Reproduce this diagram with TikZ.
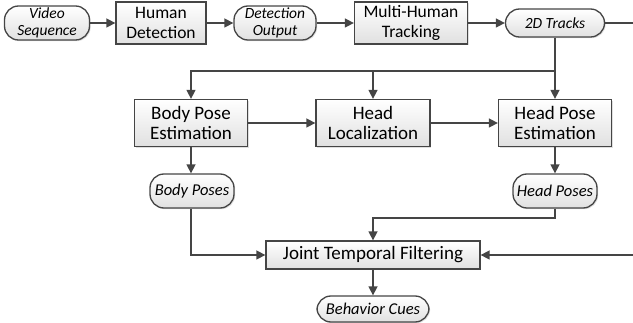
\documentclass[tikz,border=0pt]{standalone}
\usepackage{fontspec}
\setmainfont{Carlito}
\usetikzlibrary{arrows.meta,shadows}
\definecolor{edge}{HTML}{454545}
\begin{document}
\begin{tikzpicture}[x=1pt,y=-1pt,
  base/.style={draw=edge,line width=1.3pt,top color=white,bottom color=black!12,
    drop shadow={shadow xshift=1.2pt,shadow yshift=-1.2pt,opacity=0.25},
    align=center,inner sep=0pt},
  procbox/.style={base,rectangle,font=\fontsize{19}{20.5}\selectfont},
  databox/.style={base,rounded corners=14pt,font=\itshape\fontsize{16.5}{17.5}\selectfont},
  small/.style={font=\fontsize{17.5}{20}\selectfont},
  smallit/.style={font=\itshape\fontsize{15.5}{17}\selectfont},
  conn/.style={draw=edge,line width=1.5pt},
  arr/.style={conn,-{Triangle[length=9pt,width=9pt]}}]
\useasboundingbox (0,0) rectangle (633,323);
\node[databox,smallit,minimum width=85,minimum height=34] (vs) at (47,23) {Video\\Sequence};
\node[procbox,small,minimum width=90,minimum height=42] (hd) at (161,23) {Human\\Detection};
\node[databox,smallit,minimum width=82,minimum height=34] (do) at (275,23) {Detection\\Output};
\node[procbox,small,minimum width=113,minimum height=42] (mt) at (411,23) {Multi-Human\\Tracking};
\node[databox,smallit,minimum width=99,minimum height=28] (tr) at (555,23) {2D Tracks};
\node[procbox,minimum width=113,minimum height=47] (bp) at (191,123) {Body Pose\\Estimation};
\node[procbox,minimum width=114,minimum height=47] (hl) at (373,123) {Head\\Localization};
\node[procbox,minimum width=113,minimum height=47] (hp) at (555,123) {Head Pose\\Estimation};
\node[databox,minimum width=84,minimum height=34] (bps) at (192,191) {Body Poses};
\node[databox,minimum width=84,minimum height=34] (hps) at (555,191) {Head Poses};
\node[procbox,minimum width=214,minimum height=28] (jt) at (373,255) {Joint Temporal Filtering};
\node[databox,minimum width=112,minimum height=26] (bc) at (373,309) {Behavior Cues};
\coordinate (out) at (633,23);
\coordinate (in) at (633,255);
\coordinate (split) at (555,71);
\draw[arr] (vs) -- (hd);
\draw[arr] (hd) -- (do);
\draw[arr] (do) -- (mt);
\draw[arr] (mt) -- (tr);
\draw[conn] (tr) -- (out);
\draw[conn] (tr) -- (split);
\draw[arr] (split) -- (hp);
\draw[arr] (split) -| (bp);
\draw[arr] (split) -| (hl);
\draw[arr] (bp) -- (hl);
\draw[arr] (hl) -- (hp);
\draw[arr] (bp) -- (bp |- bps.north);
\draw[arr] (hp) -- (hps);
\draw[arr] (bp |- bps.south) |- (jt);
\draw[arr] (hps.south) |- (373,218) -- (jt);
\draw[arr] (in) -- (jt);
\draw[arr] (jt) -- (bc);
\end{tikzpicture}
\end{document}
